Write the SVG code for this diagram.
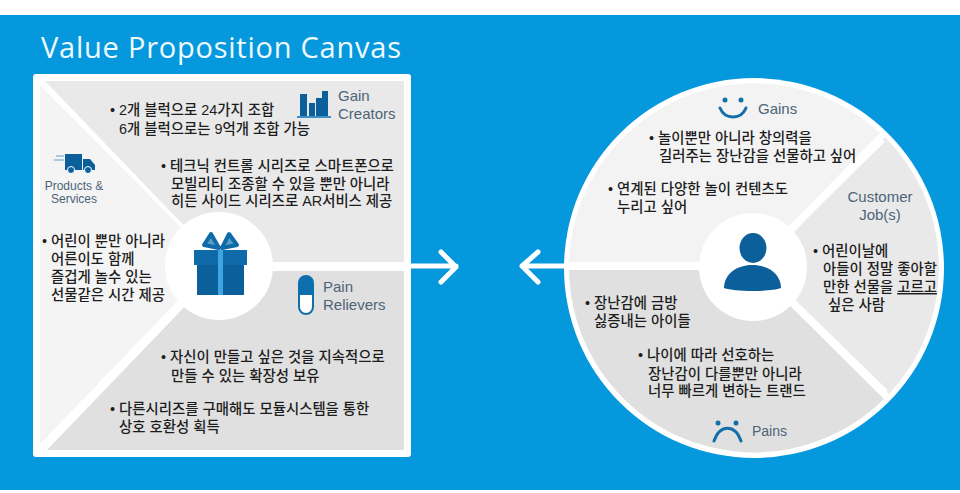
<svg xmlns="http://www.w3.org/2000/svg" width="960" height="493" viewBox="0 0 960 493">
<style>
text{font-family:"Liberation Sans","Noto Sans CJK KR",sans-serif}
.k{font-size:14.4px;fill:#1d1d1d;font-weight:500}
.l{font-size:15px;fill:#4d6478}
.s{font-size:12px;fill:#4d6478}
.w{stroke:#fff;stroke-width:5;fill:none;stroke-linecap:round;stroke-linejoin:round}
.b{fill:#0b5f9b}
.lb{fill:none;stroke:#146fa8;stroke-width:3;stroke-linecap:round}
</style>
<rect width="960" height="493" fill="#fff"/>
<rect y="15" width="960" height="475" fill="#0698dd"/>
<text x="41" y="58" style="font-family:'Open Sans','Liberation Sans',sans-serif;font-size:29px;fill:#eefaff" textLength="360" lengthAdjust="spacing">Value Proposition Canvas</text>

<g id="value-map">
<rect x="33" y="74" width="378" height="383" rx="3" fill="#fff"/>
<polygon points="45,81 404,81 404,262 219,262" fill="#e9e9e9"/>
<polygon points="40,85 215,262 40,444" fill="#f4f4f4"/>
<polygon points="47,450 219,271 404,271 404,450" fill="#e0e0e0"/>
<circle cx="219" cy="266" r="54" fill="#fff"/>
</g>

<g id="connectors">
<path class="w" d="M273 266H456M441 252L456 267L441 282"/>
<path class="w" d="M698 266H522M538 252L522 266L538 282"/>
</g>

<g id="gift">
<rect x="197" y="262" width="47" height="33" fill="#0b5f9b"/>
<rect x="194" y="250" width="53" height="15" fill="#0e6aa8"/>
<rect x="218" y="250" width="5" height="45" fill="#3fa5e0"/>
<path d="M219 248L204 245L211 234ZM222 248L237 245L229 234Z" fill="#5c9cc6" stroke="#0f6aa8" stroke-width="4" stroke-linejoin="round"/>
</g>

<g id="gain-creators">
<rect x="300" y="94" width="7" height="22" class="b"/><rect x="309" y="103" width="6" height="13" class="b"/><rect x="316" y="98" width="6" height="18" class="b"/><rect x="322" y="91" width="6" height="25" class="b"/>
<rect x="297" y="116" width="34" height="2" fill="#3c8fc4"/>
<text class="l" x="338" y="101">Gain</text>
<text class="l" x="338" y="119">Creators</text>
<text class="k" x="110" y="115">• 2개 블럭으로 24가지 조합<tspan x="119" y="134">6개 블럭으로는 9억개 조합 가능</tspan></text>
<text class="k" x="161" y="171">• 테크닉 컨트롤 시리즈로 스마트폰으로<tspan x="171" y="189">모빌리티 조종할 수 있을 뿐만 아니라</tspan><tspan x="171" y="206">히든 사이드 시리즈로 AR서비스 제공</tspan></text>
</g>

<g id="products-services">
<path d="M65 154H82V170H65ZM83 159H90L95 165V170H83Z" class="b"/>
<circle cx="71" cy="170" r="3.5" class="b" stroke="#fff"/><circle cx="88" cy="170" r="3.5" class="b" stroke="#fff"/>
<path d="M56 156H64M54 160H64" stroke="#a7c9dd" stroke-width="2"/>
<text class="s" x="74" y="190" text-anchor="middle">Products &amp;</text>
<text class="s" x="74" y="203" text-anchor="middle">Services</text>
<text class="k" x="42" y="246">• 어린이 뿐만 아니라<tspan x="51" y="264">어른이도 함께</tspan><tspan x="51" y="282">즐겁게 놀수 있는</tspan><tspan x="51" y="300">선물같은 시간 제공</tspan></text>
</g>

<g id="pain-relievers">
<path d="M298 295V283A8 8 0 0 1 314 283V295Z" fill="#0e6fae"/>
<path d="M299 295V307A7 7 0 0 0 313 307V295" fill="#fff" stroke="#146fa8" stroke-width="2"/>
<text class="l" x="323" y="292">Pain</text>
<text class="l" x="323" y="310">Relievers</text>
<text class="k" x="161" y="362">• 자신이 만들고 싶은 것을 지속적으로<tspan x="171" y="381">만들 수 있는 확장성 보유</tspan></text>
<text class="k" x="110" y="414">• 다른시리즈를 구매해도 모듈시스템을 통한<tspan x="119" y="432">상호 호환성 획득</tspan></text>
</g>

<g id="customer-profile">
<circle cx="754" cy="268" r="190" fill="#fff"/>
<path d="M569 262A185 185 0 0 1 880 133L754 262Z" fill="#f3f3f3"/>
<path d="M885 137A185 185 0 0 1 889 394L760 268Z" fill="#e9e9e9"/>
<path d="M884 399A185 185 0 0 1 569 270H754Z" fill="#e0e0e0"/>
<path d="M790 232L883 140M794 302L886 392" stroke="#fff" stroke-width="5"/>
<rect x="566" y="262" width="140" height="8" fill="#fff"/>
<circle cx="753" cy="267" r="54" fill="#fff"/>
<ellipse cx="753" cy="248" rx="13.500" ry="15" class="b"/>
<path d="M724 288C724 274 737 265 752 265C768 265 781 274 781 288C770 292 735 292 724 288Z" class="b"/>
</g>

<g id="gains">
<circle cx="725" cy="100" r="2.500" fill="#146fa8"/><circle cx="741" cy="100" r="2.500" fill="#146fa8"/>
<path class="lb" d="M720 108C725 120 741 120 746 108"/>
<text class="l" x="758" y="114">Gains</text>
<text class="k" x="649" y="143">• 놀이뿐만 아니라 창의력을<tspan x="659" y="161">길러주는 장난감을 선물하고 싶어</tspan></text>
<text class="k" x="608" y="194">• 연계된 다양한 놀이 컨텐츠도<tspan x="617" y="212">누리고 싶어</tspan></text>
</g>

<g id="customer-jobs">
<text class="l" x="880" y="202" text-anchor="middle">Customer</text>
<text class="l" x="880" y="220" text-anchor="middle">Job(s)</text>
<text class="k" x="813" y="256">• 어린이날에<tspan x="823" y="274">아들이 정말 좋아할</tspan><tspan x="823" y="292">만한 선물을 </tspan><tspan text-decoration="underline">고르고</tspan><tspan x="828" y="310">싶은 사람</tspan></text>
</g>

<g id="pains">
<circle cx="718" cy="423" r="2.500" fill="#146fa8"/><circle cx="736" cy="423" r="2.500" fill="#146fa8"/>
<path class="lb" d="M714 441C720 424 735 424 741 441"/>
<text class="l" x="752" y="436" style="font-size:14px">Pains</text>
<text class="k" x="585" y="308">• 장난감에 금방<tspan x="594" y="326">싫증내는 아이들</tspan></text>
<text class="k" x="638" y="360">• 나이에 따라 선호하는<tspan x="648" y="379">장난감이 다를뿐만 아니라</tspan><tspan x="648" y="396">너무 빠르게 변하는 트랜드</tspan></text>
</g>
</svg>
